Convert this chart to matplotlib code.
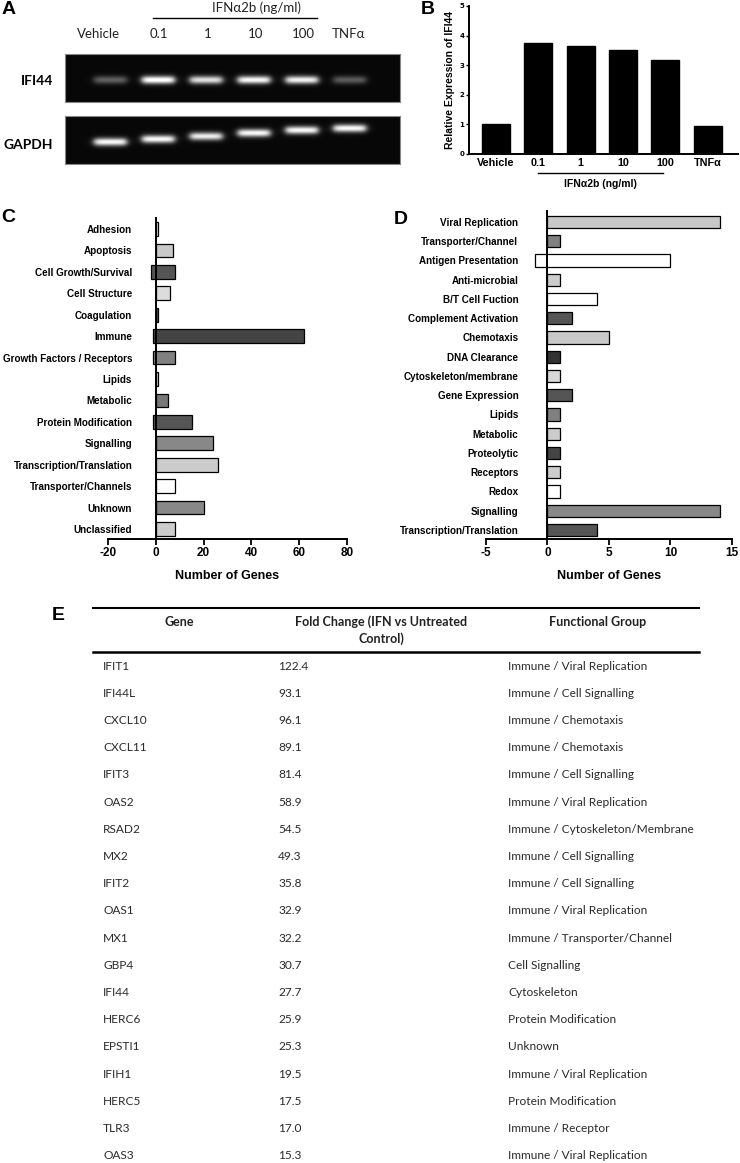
import numpy as np
import matplotlib
matplotlib.use("Agg")
import matplotlib.pyplot as plt
from matplotlib.lines import Line2D

W, H = 740, 1163

# ---- panel A: gel ----
lanes = ["Vehicle", "0.1", "1", "10", "100", "TNFα"]
ifi44_intensity = [0.35, 1.0, 0.85, 0.95, 0.92, 0.33]
ifi44_migration = [0.54, 0.54, 0.54, 0.54, 0.54, 0.54]
gapdh_intensity = [0.95, 0.95, 0.9, 0.95, 0.95, 0.95]
gapdh_migration = [0.54, 0.48, 0.42, 0.35, 0.29, 0.25]

# ---- panel B ----
b_labels = ["Vehicle", "0.1", "1", "10", "100", "TNFα"]
b_values = [1.0, 3.75, 3.65, 3.5, 3.17, 0.95]

# ---- panel C ----
c_categories = ["Adhesion", "Apoptosis", "Cell Growth/Survival", "Cell Structure",
                "Coagulation", "Immune", "Growth Factors / Receptors", "Lipids",
                "Metabolic", "Protein Modification", "Signalling",
                "Transcription/Translation", "Transporter/Channels", "Unknown",
                "Unclassified"]
c_low = [0, 0, -2, 0, 0, -1, -1, 0, 0, -1, 0, 0, 0, 0, 0]
c_high = [1, 7, 8, 6, 1, 62, 8, 1, 5, 15, 24, 26, 8, 20, 8]
c_colors = ["#f0f0f0", "#c8c8c8", "#555555", "#dcdcdc", "#555555", "#444444",
            "#808080", "#e0e0e0", "#777777", "#555555", "#888888", "#cccccc",
            "#ffffff", "#888888", "#cccccc"]

# ---- panel D ----
d_categories = ["Viral Replication", "Transporter/Channel", "Antigen Presentation",
                "Anti-microbial", "B/T Cell Fuction", "Complement Activation",
                "Chemotaxis", "DNA Clearance", "Cytoskeleton/membrane",
                "Gene Expression", "Lipids", "Metabolic", "Proteolytic",
                "Receptors", "Redox", "Signalling", "Transcription/Translation"]
d_low = [0, 0, -1, 0, 0, 0, 0, 0, 0, 0, 0, 0, 0, 0, 0, 0, 0]
d_high = [14, 1, 10, 1, 4, 2, 5, 1, 1, 2, 1, 1, 1, 1, 1, 14, 4]
d_colors = ["#c8c8c8", "#808080", "#ffffff", "#cccccc", "#ffffff", "#555555",
            "#c8c8c8", "#333333", "#d8d8d8", "#555555", "#808080", "#cccccc",
            "#444444", "#cccccc", "#ffffff", "#888888", "#555555"]

# ---- panel E ----
genes = ["IFIT1", "IFI44L", "CXCL10", "CXCL11", "IFIT3", "OAS2", "RSAD2", "MX2",
         "IFIT2", "OAS1", "MX1", "GBP4", "IFI44", "HERC6", "EPSTI1", "IFIH1",
         "HERC5", "TLR3", "OAS3"]
fold_change = [122.4, 93.1, 96.1, 89.1, 81.4, 58.9, 54.5, 49.3, 35.8, 32.9, 32.2,
               30.7, 27.7, 25.9, 25.3, 19.5, 17.5, 17.0, 15.3]
groups = ["Immune / Viral Replication", "Immune / Cell Signalling",
          "Immune / Chemotaxis", "Immune / Chemotaxis", "Immune / Cell Signalling",
          "Immune / Viral Replication", "Immune / Cytoskeleton/Membrane",
          "Immune / Cell Signalling", "Immune / Cell Signalling",
          "Immune / Viral Replication", "Immune / Transporter/Channel",
          "Cell Signalling", "Cytoskeleton", "Protein Modification", "Unknown",
          "Immune / Viral Replication", "Protein Modification", "Immune / Receptor",
          "Immune / Viral Replication"]

ARIAL = "Liberation Sans"
CAL = "Lato"

fig = plt.figure(figsize=(W / 100, H / 100), dpi=100)


def px_axes(x0, y0, x1, y1):
    return fig.add_axes([x0 / W, 1 - y1 / H, (x1 - x0) / W, (y1 - y0) / H])


def ftext(x, y, s, **kw):
    return fig.text(x / W, 1 - y / H, s, **kw)


def fline(x0, x1, y, lw=1.0):
    fig.add_artist(Line2D([x0 / W, x1 / W], [1 - y / H, 1 - y / H],
                          color="black", lw=lw, transform=fig.transFigure))


# panel letters
for letter, x, y in [("A", 2, 10), ("B", 421, 10), ("C", 1, 218), ("D", 394, 219), ("E", 52, 615)]:
    ftext(x, y, letter, fontsize=14, fontweight="bold", family=ARIAL, va="center")

# ---------- A ----------
def gel(ax, intensity, migration):
    xl = (-0.94, 6.04)
    nx, ny = 335, 48
    xs = np.linspace(xl[0], xl[1], nx)
    ys = np.linspace(0, 1, ny)
    X, Y = np.meshgrid(xs, ys)
    img = np.full(X.shape, 0.03)
    for i, (a, m) in enumerate(zip(intensity, migration)):
        hprof = 1 / (1 + np.exp((np.abs(X - i) - 0.34) / 0.04))
        vprof = np.exp(-((Y - m) / 0.085) ** 2)
        img += a * hprof * vprof
    ax.imshow(np.clip(img, 0, 1), cmap="gray", vmin=0, vmax=1, aspect="auto",
              extent=(xl[0], xl[1], 1, 0), interpolation="bilinear")
    ax.set_xticks([])
    ax.set_yticks([])
    for s in ax.spines.values():
        s.set_color("#888888")
        s.set_linewidth(0.8)

gel(px_axes(65, 54, 400, 102), ifi44_intensity, ifi44_migration)
gel(px_axes(65, 116, 400, 164), gapdh_intensity, gapdh_migration)

lane_x = [99, 159, 208, 256, 303, 348]
for lab, x in zip(lanes, lane_x):
    ftext(x, 34, lab, fontsize=9.5, family=CAL, ha="center", va="center", color="#222222")
fline(153, 317, 18)
ftext(256, 8, "IFNα2b (ng/ml)", fontsize=9.5, family=CAL, ha="center", va="center", color="#222222")
ftext(53, 81, "IFI44", fontsize=10, family=CAL, fontweight="bold", ha="right", va="center")
ftext(53, 145, "GAPDH", fontsize=10, family=CAL, fontweight="bold", ha="right", va="center")

# ---------- B ----------
axb = px_axes(469, 6, 738, 154)
xb = np.arange(len(b_values))
axb.bar(xb, b_values, width=0.66, color="black", edgecolor="black")
axb.set_xlim(-0.64, 5.72)
axb.set_ylim(0, 5)
axb.set_yticks(range(6))
axb.set_xticks(xb)
axb.set_xticklabels(b_labels, fontsize=7.8, fontweight="bold", family=ARIAL)
axb.tick_params(axis="x", length=0, pad=3)
axb.tick_params(axis="y", length=2.5, width=1, labelsize=5, pad=1)
for t in axb.get_yticklabels():
    t.set_fontweight("bold")
axb.spines[["top", "right"]].set_visible(False)
axb.spines[["left", "bottom"]].set_linewidth(1.4)
axb.set_ylabel("Relative Expression of IFI44", fontsize=7.5, fontweight="bold",
               family=ARIAL, labelpad=3)
fline(538, 663, 173)
ftext(600, 184, "IFNα2b (ng/ml)", fontsize=7.5, fontweight="bold", family=ARIAL,
      ha="center", va="center")


def hbar_panel(ax, cats, low, high, colors, xlim, xticks, ylim, pad):
    y = np.arange(len(cats))
    ax.spines[["top", "right"]].set_visible(False)
    ax.spines["left"].set_position(("data", 0))
    ax.spines[["left", "bottom"]].set_linewidth(1.4)
    ax.barh(y, np.array(high) - np.array(low), left=low, height=0.64,
            color=colors, edgecolor="black", linewidth=0.9)
    ax.set_xlim(*xlim)
    ax.set_ylim(*ylim)
    ax.set_xticks(xticks)
    ax.set_xticklabels([str(v) for v in xticks], fontsize=8.5, fontweight="bold",
                       family=ARIAL)
    ax.set_yticks(y)
    ax.set_yticklabels(cats, fontsize=7.1, fontweight="bold", family=ARIAL)
    ax.tick_params(axis="y", length=0, pad=pad)
    ax.tick_params(axis="x", length=4, width=1.3, pad=1.5)
    ax.set_xlabel("Number of Genes", fontsize=9, fontweight="bold", family=ARIAL,
                  labelpad=8)


# ---------- C ----------
axc = px_axes(108, 218, 347, 539)
hbar_panel(axc, c_categories, c_low, c_high, c_colors, (-20, 80),
           [-20, 0, 20, 40, 60, 80], (14.47, -0.51), 17)

# ---------- D ----------
axd = px_axes(486, 211, 732, 539)
hbar_panel(axd, d_categories, d_low, d_high, d_colors, (-5, 15),
           [-5, 0, 5, 10, 15], (16.47, -0.57), 21)

# ---------- E ----------
fline(93, 699, 608, lw=1.5)
fline(93, 699, 652, lw=1.8)
ftext(179, 622, "Gene", fontsize=9, family=CAL, fontweight="bold", ha="center", va="center", color="#222222")
ftext(381, 622, "Fold Change (IFN vs Untreated", fontsize=9, family=CAL, fontweight="bold",
      ha="center", va="center", color="#222222")
ftext(381, 639, "Control)", fontsize=9, family=CAL, fontweight="bold", ha="center", va="center", color="#222222")
ftext(598, 622, "Functional Group", fontsize=9, family=CAL, fontweight="bold", ha="center", va="center", color="#222222")
for i, (g, f, grp) in enumerate(zip(genes, fold_change, groups)):
    yy = 666 + 27.2 * i
    ftext(103, yy, g, fontsize=8.6, family=CAL, va="center", color="#2a2a2a")
    ftext(278, yy, f"{f:.1f}", fontsize=8.6, family=CAL, va="center", color="#2a2a2a")
    ftext(508, yy, grp, fontsize=8.6, family=CAL, va="center", color="#2a2a2a")

fig.savefig("out.png", dpi=100)
